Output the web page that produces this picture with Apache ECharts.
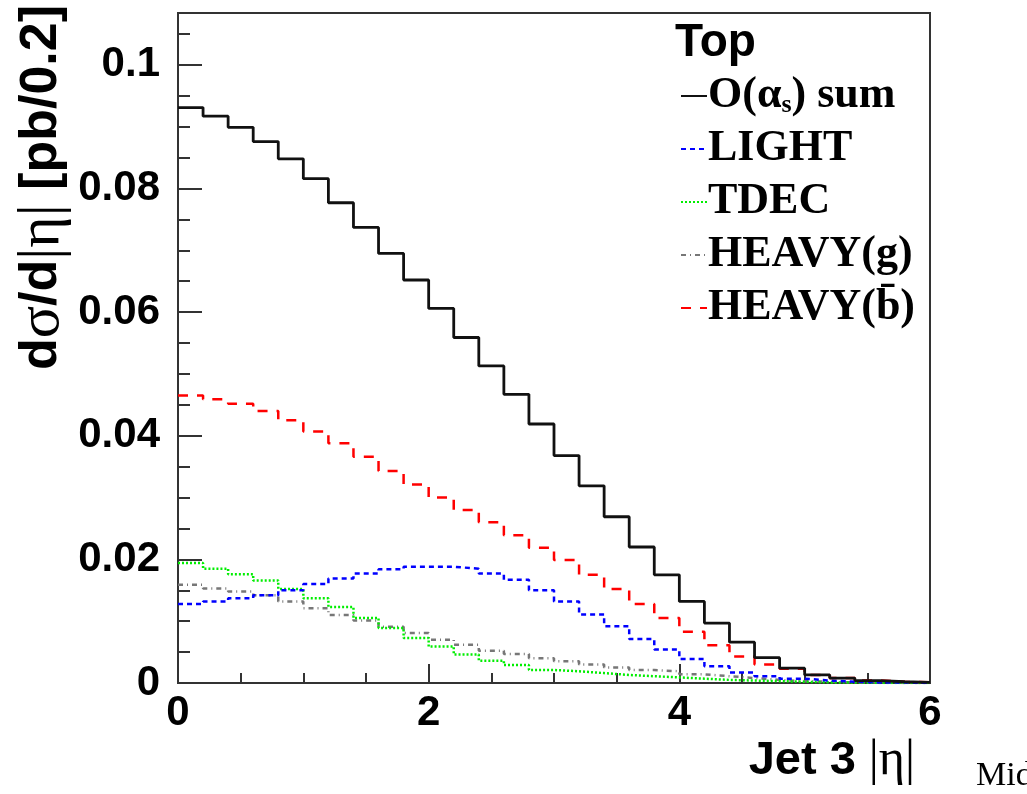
<!DOCTYPE html>
<html><head><meta charset="utf-8">
<script src="https://cdn.jsdelivr.net/npm/echarts@6/dist/echarts.min.js"></script>
<style>html,body{margin:0;padding:0;background:#fff}#c{width:1027px;height:794px}</style>
</head><body><div id="c"></div>
<script>
// bin width in |eta|
const binWidth = 0.2;
// O(alpha_s) sum
const sumVals = [0.0931,0.0917,0.0899,0.0876,0.0848,0.0816,0.0777,0.0737,0.0695,0.0652,
                 0.0606,0.0559,0.0513,0.0467,0.0419,0.0368,0.0319,0.0269,0.0220,0.0175,
                 0.0132,0.0097,0.0066,0.0041,0.0024,0.0013,0.0008,0.0004,0.0002,0.0001];
// LIGHT
const lightVals = [0.0128,0.0132,0.0137,0.0142,0.0150,0.0160,0.0169,0.0177,0.0184,0.0188,
                   0.0188,0.0185,0.0177,0.0167,0.0150,0.0132,0.0111,0.0092,0.0071,0.0054,
                   0.0039,0.0027,0.0017,0.0011,0.0007,0.0004,0.0002,0.0001,0.0001,0.0000];
// TDEC
const tdecVals = [0.0194,0.0185,0.0176,0.0166,0.0152,0.0137,0.0123,0.0105,0.0089,0.0073,
                  0.0059,0.0046,0.0036,0.0029,0.0021,0.0019,0.0016,0.0013,0.0011,0.0009,
                  0.0007,0.0005,0.0004,0.0003,0.0002,0.0001,0.0001,0.0000,0.0000,0.0000];
// HEAVY(g)
const heavyGVals = [0.0159,0.0153,0.0148,0.0142,0.0132,0.0121,0.0110,0.0101,0.0091,0.0081,
                    0.0070,0.0062,0.0052,0.0047,0.0040,0.0035,0.0030,0.0025,0.0021,0.0019,
                    0.0014,0.0011,0.0008,0.0005,0.0003,0.0002,0.0001,0.0001,0.0000,0.0000];
// HEAVY(bbar)
const heavyBVals = [0.0465,0.0459,0.0452,0.0440,0.0425,0.0407,0.0388,0.0366,0.0343,0.0321,
                    0.0300,0.0280,0.0260,0.0239,0.0219,0.0199,0.0175,0.0152,0.0128,0.0105,
                    0.0083,0.0061,0.0043,0.0030,0.0023,0.0013,0.0008,0.0004,0.0002,0.0001];

const seriesNames = ['O(αs) sum', 'LIGHT', 'TDEC', 'HEAVY(g)', 'HEAVY(b\u0304)'];
const xTickLabels = ['0', '2', '4', '6'];
const yTickLabels = ['0', '0.02', '0.04', '0.06', '0.08', '0.1'];
const xTitle = 'Jet 3 ';
const yTitle = 'dσ/d|η| [pb/0.2]';
const legendTitle = 'Top';

function stepData(vals) {
  const d = vals.map((v, i) => [+(i * binWidth).toFixed(2), v]);
  d.push([+(vals.length * binWidth).toFixed(2), vals[vals.length - 1]]);
  return d;
}

const styles = [
  {color: '#111111', type: 'solid', width: 2.8},
  {color: '#0000ff', type: [5, 4], width: 2.5},
  {color: '#00ee00', type: [2, 2], width: 2.5},
  {color: '#777777', type: [5, 4, 1, 4], width: 2.5},
  {color: '#ff0000', type: [10, 9], width: 2.5}
];
const allVals = [sumVals, lightVals, tdecVals, heavyGVals, heavyBVals];

const chart = echarts.init(document.getElementById('c'), null, {renderer: 'canvas'});
const axisCol = '#333';
const labelFont = {fontFamily: 'Liberation Sans', fontWeight: 'bold', fontSize: 42, color: '#000'};
const yMax = 0.1084;

const option = {
  animation: false,
  backgroundColor: '#fff',
  grid: {left: 178, right: 97, top: 13, bottom: 111, show: true, borderColor: axisCol, borderWidth: 2, containLabel: false},
  xAxis: {
    type: 'value', min: 0, max: 6, interval: 2,
    axisLine: {show: true, onZero: false, lineStyle: {color: axisCol, width: 2}},
    axisTick: {show: true, inside: true, length: 19, lineStyle: {color: axisCol, width: 2}},
    minorTick: {show: true, splitNumber: 4, length: 10, lineStyle: {color: axisCol, width: 2}},
    splitLine: {show: false},
    axisLabel: Object.assign({margin: 9, formatter: v => xTickLabels[Math.round(v / 2)] ?? ''}, labelFont)
  },
  yAxis: [
    {
      type: 'value', min: 0, max: yMax, interval: 0.02,
      axisLine: {show: true, lineStyle: {color: axisCol, width: 2}},
      axisTick: {show: true, inside: true, length: 24, lineStyle: {color: axisCol, width: 2}},
      splitLine: {show: false},
      axisLabel: Object.assign({margin: 18, showMaxLabel: false,
        formatter: v => { const i = Math.round(v / 0.02); return Math.abs(v - i * 0.02) < 1e-6 ? (yTickLabels[i] ?? '') : ''; }}, labelFont)
    },
    {
      type: 'value', min: 0, max: yMax, interval: 0.005, position: 'left',
      axisLine: {show: false},
      axisTick: {show: true, inside: true, length: 12, lineStyle: {color: axisCol, width: 2}},
      splitLine: {show: false},
      axisLabel: {show: false}
    }
  ],
  legend: {
    orient: 'vertical', left: 675, top: 69,
    itemWidth: 26, itemHeight: 14, itemGap: 9,
    itemStyle: {opacity: 0},
    data: seriesNames,
    formatter: name => name === seriesNames[0] ? '{m|O(α}{s|s}{m|) sum}' : '{m|' + name + '}',
    textStyle: {
      padding: [0, 0, 0, -4],
      rich: {
        m: {fontFamily: 'Liberation Serif', fontWeight: 'bold', fontSize: 44, lineHeight: 44, color: '#000'},
        s: {fontFamily: 'Liberation Serif', fontWeight: 'bold', fontSize: 26, lineHeight: 18, verticalAlign: 'bottom', color: '#000'}
      }
    }
  },
  series: seriesNames.map((n, k) => ({
    name: n, type: 'line', step: 'end', symbol: 'none', showSymbol: false,
    xAxisIndex: 0, yAxisIndex: 0,
    data: stepData(allVals[k]),
    lineStyle: styles[k], itemStyle: {color: styles[k].color},
    z: 10 - k
  })),
  graphic: [
    {type: 'text', left: 675, top: 20, z: 100,
     style: {text: legendTitle, font: 'bold 46px "Liberation Sans"', fill: '#000'}},
    {type: 'text', x: 915, y: 761, z: 100,
     style: {text: '{a|' + xTitle + '}{g||η|}', textAlign: 'right', textVerticalAlign: 'middle',
       rich: {a: {fontFamily: 'Liberation Sans', fontWeight: 'bold', fontSize: 47, fill: '#000'},
              g: {fontFamily: 'Liberation Serif', fontWeight: 'normal', fontSize: 50, fill: '#000'}}}},
    {type: 'text', x: 42, y: 5, rotation: Math.PI / 2, z: 100,
     style: {text: '{a|d}{g|σ}{a|/d}{g||η|}{a| [pb/0.2]}', textAlign: 'right', textVerticalAlign: 'middle',
       rich: {a: {fontFamily: 'Liberation Sans', fontWeight: 'bold', fontSize: 52, fill: '#000'},
              g: {fontFamily: 'Liberation Serif', fontWeight: 'normal', fontSize: 60, fill: '#000'}}}},
    {type: 'text', x: 976, y: 793, z: 100,
     style: {text: 'Mid', font: '34px "Liberation Serif"', fill: '#000', textVerticalAlign: 'bottom'}}
  ]
};
chart.setOption(option);
</script></body></html>
